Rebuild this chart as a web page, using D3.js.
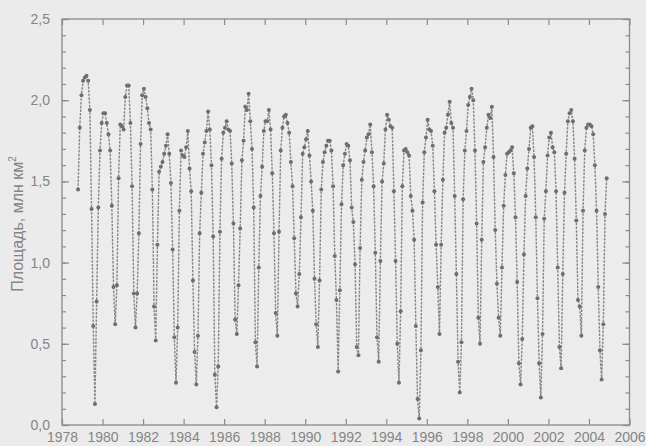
<!DOCTYPE html>
<html lang="ru">
<head>
<meta charset="UTF-8">
<title>Площадь</title>
<script src="https://cdn.jsdelivr.net/npm/d3@7"></script>
<style>
  body { margin: 0; background: #ebebeb; }
  svg text { font-family: "Liberation Sans", Arial, sans-serif; fill: #858585; }
</style>
</head>
<body>
<svg id="chart"></svg>
<script>
// monthly area, mln km2: series starts Oct 1978, ends Nov 2004
var startYear = 1978, startMonth = 9

var v1978 = [1.45, 1.83, 2.03]
var v1979 = [2.12, 2.14, 2.15, 2.12, 1.94, 1.33, 0.61, 0.13, 0.76, 1.34, 1.69, 1.86]
var v1980 = [1.92, 1.92, 1.86, 1.79, 1.69, 1.35, 0.85, 0.62, 0.86, 1.52, 1.85, 1.84]
var v1981 = [1.82, 2.02, 2.09, 2.09, 1.86, 1.47, 0.81, 0.60, 0.81, 1.18, 1.73, 2.03]
var v1982 = [2.07, 2.02, 1.95, 1.86, 1.82, 1.45, 0.73, 0.52, 1.11, 1.56, 1.59, 1.62]
var v1983 = [1.67, 1.72, 1.79, 1.67, 1.49, 1.08, 0.54, 0.26, 0.60, 1.32, 1.69, 1.66]
var v1984 = [1.65, 1.71, 1.81, 1.58, 1.44, 0.89, 0.45, 0.25, 0.55, 1.18, 1.43, 1.67]
var v1985 = [1.74, 1.81, 1.93, 1.82, 1.60, 1.16, 0.31, 0.11, 0.36, 1.19, 1.64, 1.80]
var v1986 = [1.83, 1.87, 1.82, 1.81, 1.61, 1.24, 0.65, 0.56, 0.86, 1.21, 1.63, 1.75]
var v1987 = [1.96, 1.94, 2.04, 1.87, 1.70, 1.34, 0.51, 0.36, 0.97, 1.41, 1.59, 1.81]
var v1988 = [1.87, 1.87, 1.94, 1.82, 1.55, 1.18, 0.69, 0.55, 1.19, 1.69, 1.83, 1.90]
var v1989 = [1.91, 1.86, 1.80, 1.62, 1.47, 1.15, 0.81, 0.73, 0.93, 1.28, 1.67, 1.71]
var v1990 = [1.76, 1.81, 1.66, 1.50, 1.32, 0.90, 0.62, 0.48, 0.89, 1.45, 1.62, 1.68]
var v1991 = [1.72, 1.75, 1.75, 1.69, 1.47, 1.04, 0.77, 0.33, 0.83, 1.36, 1.60, 1.67]
var v1992 = [1.73, 1.72, 1.63, 1.34, 1.25, 0.99, 0.48, 0.43, 1.09, 1.51, 1.62, 1.69]
var v1993 = [1.77, 1.79, 1.85, 1.68, 1.47, 1.06, 0.54, 0.39, 1.01, 1.50, 1.61, 1.82]
var v1994 = [1.91, 1.88, 1.84, 1.83, 1.44, 1.01, 0.50, 0.26, 0.70, 1.47, 1.69, 1.70]
var v1995 = [1.68, 1.66, 1.41, 1.32, 1.14, 0.61, 0.16, 0.04, 0.46, 1.37, 1.68, 1.77]
var v1996 = [1.88, 1.82, 1.81, 1.72, 1.44, 1.11, 0.85, 0.56, 1.11, 1.51, 1.80, 1.83]
var v1997 = [1.91, 1.99, 1.86, 1.83, 1.41, 0.93, 0.39, 0.20, 0.51, 1.39, 1.69, 1.81]
var v1998 = [1.97, 2.02, 2.07, 2.00, 1.69, 1.24, 0.66, 0.50, 1.14, 1.62, 1.71, 1.83]
var v1999 = [1.91, 1.89, 1.96, 1.65, 1.20, 0.87, 0.66, 0.55, 0.97, 1.35, 1.54, 1.67]
var v2000 = [1.68, 1.69, 1.71, 1.55, 1.28, 0.88, 0.38, 0.25, 0.53, 1.05, 1.41, 1.58]
var v2001 = [1.70, 1.83, 1.84, 1.65, 1.28, 0.78, 0.38, 0.17, 0.56, 1.27, 1.44, 1.66]
var v2002 = [1.77, 1.80, 1.71, 1.68, 1.44, 0.97, 0.48, 0.35, 0.93, 1.43, 1.67, 1.87]
var v2003 = [1.92, 1.94, 1.87, 1.64, 1.26, 0.77, 0.73, 0.55, 1.32, 1.69, 1.83, 1.85]
var v2004 = [1.85, 1.84, 1.79, 1.60, 1.32, 0.85, 0.46, 0.28, 0.62, 1.30, 1.52]

var xTicks = [1978, 1980, 1982, 1984, 1986, 1988, 1990, 1992, 1994, 1996, 1998, 2000, 2002, 2004, 2006]
var yTicks = [0, 0.5, 1.0, 1.5, 2.0, 2.5]
var yLabels = ["0,0", "0,5", "1,0", "1,5", "2,0", "2,5"]
var yMinor = d3.range(0, 2.51, 0.1)
var yTitle = "Площадь, млн км"

var values = [].concat(v1978, v1979, v1980, v1981, v1982, v1983, v1984, v1985, v1986,
    v1987, v1988, v1989, v1990, v1991, v1992, v1993, v1994, v1995, v1996, v1997,
    v1998, v1999, v2000, v2001, v2002, v2003, v2004)

// each value sits at the middle of its month
var data = values.map(function (v, i) {
    var m = startMonth + i
    return { t: startYear + (m + 0.5) / 12, v: v }
})

var W = 646, H = 446
var mLeft = 62, mRight = 629.5, mTop = 19, mBottom = 425

var svg = d3.select("#chart")
    .attr("width", W)
    .attr("height", H)

var x = d3.scaleLinear().domain([1978, 2006]).range([mLeft, mRight])
var y = d3.scaleLinear().domain([0, 2.5]).range([mBottom, mTop])

var axisColor = "#8a8a8a"

// frame
svg.append("rect")
    .attr("x", mLeft).attr("y", mTop)
    .attr("width", mRight - mLeft).attr("height", mBottom - mTop)
    .attr("fill", "#ececec")
    .attr("stroke", axisColor)
    .attr("stroke-width", 1.3)

// bottom / top ticks, inward
svg.append("g")
    .attr("transform", "translate(0," + mBottom + ")")
    .call(d3.axisBottom(x).tickValues(xTicks).tickFormat(d3.format("d")).tickSizeInner(-6).tickSizeOuter(0).tickPadding(7))
svg.append("g")
    .attr("transform", "translate(0," + mTop + ")")
    .call(d3.axisTop(x).tickValues(xTicks).tickFormat("").tickSizeInner(-6).tickSizeOuter(0))

// left / right ticks, minor every 0.1
svg.append("g")
    .attr("transform", "translate(" + mLeft + ",0)")
    .call(d3.axisLeft(y).tickValues(yMinor).tickFormat("").tickSizeInner(-4).tickSizeOuter(0))
svg.append("g")
    .attr("transform", "translate(" + mLeft + ",0)")
    .call(d3.axisLeft(y).tickValues(yTicks).tickFormat(function (d, i) { return yLabels[i] }).tickSizeInner(-7).tickSizeOuter(0).tickPadding(12))
svg.append("g")
    .attr("transform", "translate(" + mRight + ",0)")
    .call(d3.axisRight(y).tickValues(yMinor).tickFormat("").tickSizeInner(-4).tickSizeOuter(0))
svg.append("g")
    .attr("transform", "translate(" + mRight + ",0)")
    .call(d3.axisRight(y).tickValues(yTicks).tickFormat("").tickSizeInner(-7).tickSizeOuter(0))

svg.selectAll(".domain").remove()
svg.selectAll(".tick line").attr("stroke", axisColor).attr("stroke-width", 1.2)
svg.selectAll(".tick text").attr("font-size", 14).attr("fill", "#858585")

// axis title
var title = svg.append("text")
    .attr("transform", "translate(23," + ((mTop + mBottom) / 2 + 2) + ") rotate(-90)")
    .attr("text-anchor", "middle")
    .attr("font-size", 16)
title.append("tspan").text(yTitle)
title.append("tspan").attr("font-size", 10).attr("dy", -7).text("2")

// series
var line = d3.line()
    .x(function (d) { return x(d.t) })
    .y(function (d) { return y(d.v) })

svg.append("path")
    .datum(data)
    .attr("d", line)
    .attr("fill", "none")
    .attr("stroke", "#858585")
    .attr("stroke-width", 1.4)
    .attr("stroke-dasharray", "2.5,1.2")

svg.selectAll("circle")
    .data(data)
    .join("circle")
    .attr("cx", function (d) { return x(d.t) })
    .attr("cy", function (d) { return y(d.v) })
    .attr("r", 2)
    .attr("fill", "#6e6e6e")
</script>
</body>
</html>
